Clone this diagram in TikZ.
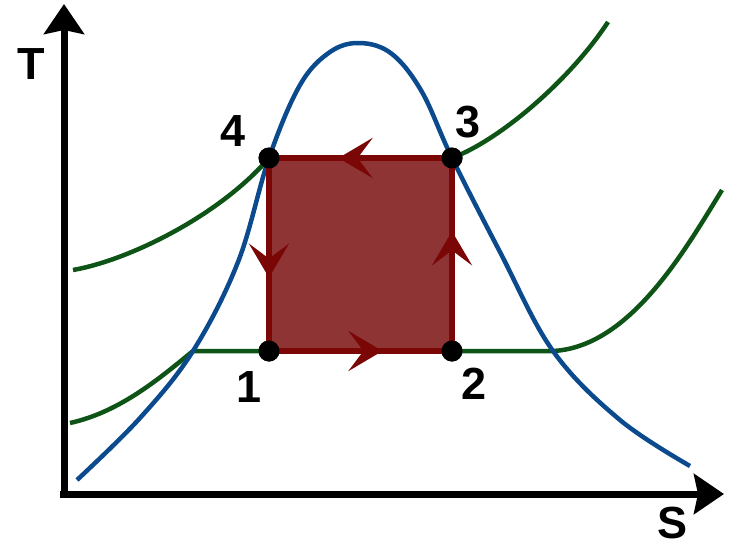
\documentclass[tikz,border=0pt]{standalone}
\usepackage{fontspec}
\setmainfont{Liberation Sans}
\usetikzlibrary{arrows.meta,positioning,decorations.markings}
\definecolor{domeBlue}{HTML}{0B4A8C}
\definecolor{isoGreen}{HTML}{0E5416}
\definecolor{cycRed}{HTML}{7A0606}
\definecolor{cycFill}{HTML}{8F3434}

\begin{document}
\begin{tikzpicture}[x=1pt, y=-1pt,
      axis/.style={line width=7pt, -{Stealth[length=30pt, width=40pt, inset=4pt]}},
      dome/.style={line width=4.5pt, domeBlue},
      iso/.style={line width=4.5pt, isoGreen},
      cyc/.style={line width=6pt, cycRed, postaction={decorate},
        decoration={markings, mark=at position 0.62 with
          {\arrow{Stealth[length=34pt, width=40pt, inset=15pt]}}}},
      dot/.style={circle, fill=black, inner sep=0pt, minimum size=21pt},
      num/.style={font=\fontsize{45}{45}\selectfont\bfseries, inner sep=0pt}]
    \useasboundingbox (0,0) rectangle (731,549);
    % axes
    \coordinate (tmax) at (64,4);
    \coordinate (smax) at (724,494);
    \draw[axis] (64,498) -- (tmax);
    \draw[axis] (60,494) -- (smax);
    \node[num] (tlab) at (31,64) {T};
    \node[num] (slab) at (672,523) {S};
    % state points
    \node[dot] (p1) at (269,351) {};
    \node[dot] (p2) at (452,351) {};
    \node[dot] (p3) at (452,158) {};
    \node[dot] (p4) at (269,158) {};
    \coordinate (l1) at (193,351);
    \coordinate (l2) at (553,351);
    % isobars
    \draw[iso] (70,423) .. controls (120,412) and (160,378) .. (l1) -- (l2)
      .. controls (630,347) and (685,250) .. (722,190);
    \draw[iso] (73,270) .. controls (130,260) and (220,215) .. (p4.center);
    \draw[iso] (p3.center) .. controls (500,140) and (570,80) .. (608,22);
    % vapour dome
    \draw[dome] plot[smooth, tension=0.6] coordinates {(77,480) (140,418) (l1)
      (238,262) (p4.center) (300,85) (330,52) (360,43) (392,54) (422,92)
      (p3.center) (500,252) (l2) (620,420) (690,466)};
    % cycle
    \fill[cycFill] (p1.center) rectangle (p3.center);
    \draw[cyc] (p1.center) -- (p2.center);
    \draw[cyc] (p2.center) -- (p3.center);
    \draw[cyc] (p3.center) -- (p4.center);
    \draw[cyc] (p4.center) -- (p1.center);
    \foreach \p in {p1,p2,p3,p4} \node[dot] at (\p) {};
    \node[num] (n1) at (249,387) {1};
    \node[num] (n2) at (474,384) {2};
    \node[num] (n3) at (468,122) {3};
    \node[num] (n4) at (233,131) {4};
  \end{tikzpicture}
\end{document}
